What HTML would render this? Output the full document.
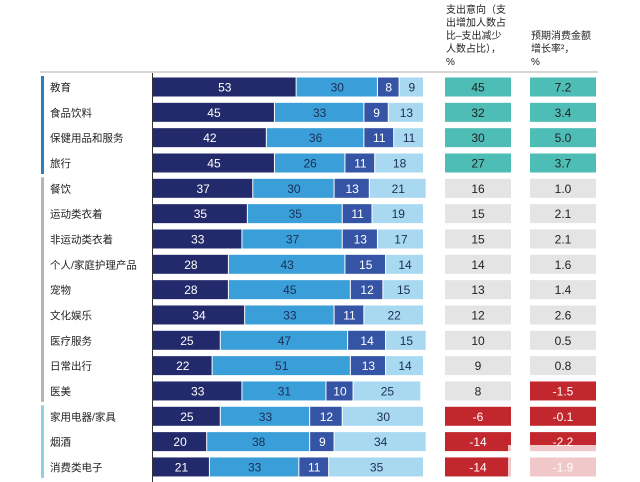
<!DOCTYPE html>
<html><head><meta charset="utf-8"><style>
body{margin:0;background:#fff;width:640px;height:482px;overflow:hidden;font-family:"Liberation Sans","Noto Sans CJK SC",sans-serif}
svg{display:block}
</style></head><body>
<svg id="c" width="640" height="482"></svg>
<script>
const categories=["教育","食品饮料","保健用品和服务","旅行","餐饮","运动类衣着","非运动类衣着","个人/家庭护理产品","宠物","文化娱乐","医疗服务","日常出行","医美","家用电器/家具","烟酒","消费类电子"];
const s1=[53,45,42,45,37,35,33,28,28,34,25,22,33,25,20,21];
const s2=[30,33,36,26,30,35,37,43,45,33,47,51,31,33,38,33];
const s3=[8,9,11,11,13,11,13,15,12,11,14,13,10,12,9,11];
const s4=[9,13,11,18,21,19,17,14,15,22,15,14,25,30,34,35];
const intent=[45,32,30,27,16,15,15,14,13,12,10,9,8,-6,-14,-14];
const growth=["7.2","3.4","5.0","3.7","1.0","2.1","2.1","1.6","1.4","2.6","0.5","0.8","-1.5","-0.1","-2.2","-1.9"];
const groups=[0,0,0,0,1,1,1,1,1,1,1,1,1,2,2,2];
const NS="http://www.w3.org/2000/svg";
const svg=document.getElementById('c');
function mk(t,a,txt){const e=document.createElementNS(NS,t);for(const k in a)e.setAttribute(k,a[k]);if(txt!==undefined)e.textContent=txt;svg.appendChild(e);return e;}
const x0=152,W=271;
const xs=v=>v/100*W;
const yc=i=>87+i*25.33;
const bh=19;
const cols=["#232a6b","#3a9fd8","#3654a5","#a9d9f1"];
const tcols=["#fff","#1c2d55","#fff","#1c2d55"];
const gcol=["#2a7fbf","#b5b5b5","#8fd0dc"];
const h1=["支出意向（支","出增加人数占","比–支出减少","人数占比），","%"];
const h2=["预期消费金额","增长率²，","%"];
h1.forEach((t,i)=>{const e=mk('text',{x:446,y:13+i*13,'font-size':10,fill:'#222'},t);});
h2.forEach((t,i)=>{const e=mk('text',{x:531,y:39+i*13,'font-size':10,fill:'#222'},t);});
let ln=mk('line',{x1:40,x2:598,y1:72,y2:72,stroke:'#b9a7a7','stroke-width':1});

let ax=mk('line',{x1:152.5,x2:152.5,y1:73,y2:482,stroke:'#333','stroke-width':1});

[0,1,2].forEach(g=>{const idx=groups.map((v,i)=>v===g?i:-1).filter(i=>i>=0);
 const r=mk('rect',{x:41,y:yc(idx[0])-11,width:3,height:yc(idx[idx.length-1])-yc(idx[0])+22,fill:gcol[g]});
 });
const series=[s1,s2,s3,s4];
categories.forEach((c,i)=>{
 const y=yc(i);
 const t=mk('text',{x:50,y:y+4,'font-size':10.5,fill:'#222'},c);
 
 let cx=x0+1;
 series.forEach((s,k)=>{
  const w=xs(s[i]);
  const r=mk('rect',{x:cx,y:y-bh/2,width:Math.max(w-1,0),height:bh,fill:cols[k]});
  
  const tt=mk('text',{x:cx+w/2,y:y+4.5,'font-size':12,fill:tcols[k],'text-anchor':'middle'},s[i]);
  
  cx+=w;
 });
 const v=intent[i];
 const f1=i<4?'#4dbdb5':(v<0?'#c1272d':'#e4e4e4');
 const b1=mk('rect',{x:445,y:y-bh/2,width:66,height:bh,fill:f1});
 
 const t1=mk('text',{x:478,y:y+4.5,'font-size':12,fill:v<0?'#fff':'#222','text-anchor':'middle'},v);
 
 const g=parseFloat(growth[i]);
 const f2=i<4?'#4dbdb5':(g<0?'#c1272d':'#e4e4e4');
 const b2=mk('rect',{x:530,y:y-bh/2,width:66,height:bh,fill:f2});
 
 const t2=mk('text',{x:563,y:y+4.5,'font-size':12,fill:g<0?'#fff':'#222','text-anchor':'middle'},growth[i]);
 
});
const wm=mk('rect',{x:508,y:445,width:132,height:32,fill:'#fff',opacity:0.75});

</script>
</body></html>
